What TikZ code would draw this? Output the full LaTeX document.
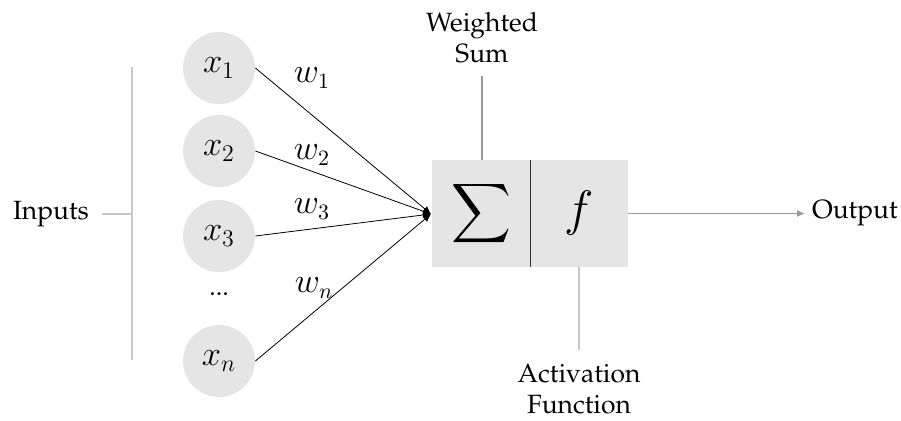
\documentclass[tikz,border=0pt]{standalone}
\usepackage[T1]{fontenc}
\usepackage{amsmath}
\renewcommand{\rmdefault}{ppl}
\usetikzlibrary{arrows.meta}
\begin{document}
\begin{tikzpicture}[x=0.5pt,y=-0.5pt,
  inp/.style={circle,fill=black!10,minimum size=36pt,inner sep=0pt,font=\fontsize{16.5}{18}\selectfont},
  half/.style={rectangle,fill=black!10,minimum width=49pt,minimum height=53.5pt,inner sep=0pt},
  lbl/.style={font=\fontsize{13.2}{15.5}\selectfont,align=center},
  wlbl/.style={font=\fontsize{16}{18}\selectfont},
  edge/.style={draw=black,line width=0.4pt,-{Latex[length=4pt,width=3.5pt]}},
  guide/.style={draw=black!22,line width=0.6pt},
  guided/.style={draw=black!40,line width=0.6pt}]
\useasboundingbox (0,0) rectangle (901,420);
\node[inp] (x1) at (219,68) {$x_1$};
\node[inp] (x2) at (219,151) {$x_2$};
\node[inp] (x3) at (219,236) {$x_3$};
\node[inp] (xn) at (219,361) {$x_n$};
\node[font=\fontsize{13}{15}\selectfont] (dots) at (219,294) {...};
\node[half] (sum) at (481,213.5) {\fontsize{20}{22}\selectfont$\displaystyle\sum$};
\node[half] (act) at (579,213.5) {\fontsize{27}{29}\selectfont$f$};
\draw[line width=0.6pt,black!80] (sum.north east) -- (sum.south east);
\coordinate (c) at (431,214);
\draw[edge] (x1.east) -- (c);
\draw[edge] (x2.east) -- (c);
\draw[edge] (x3.east) -- (c);
\draw[edge] (xn.east) -- (c);
\node[wlbl] (w1) at (312,78) {$w_1$};
\node[wlbl] (w2) at (312,155) {$w_2$};
\node[wlbl] (w3) at (312,209) {$w_3$};
\node[wlbl] (wn) at (314,288) {$w_n$};
\node[lbl] (inputs) at (51,214) {Inputs};
\coordinate (ib) at (132,214);
\coordinate (il) at (102,214);
\coordinate (itop) at (132,67);
\coordinate (ibot) at (132,360);
\draw[guide] (itop) -- (ibot);
\draw[guide] (il) -- (ib);
\node[lbl] (ws) at (482,38) {Weighted\\Sum};
\coordinate (wsb) at (482,76);
\draw[guided] (wsb) -- (sum.north -| wsb);
\node[lbl,inner sep=0pt] (af) at (579,389) {Activation\\Function};
\coordinate (afb) at (579,350);
\draw[guide] (act.south) -- (afb);
\node[lbl,anchor=west] (out) at (805,213.5) {Output};
\draw[guided,-{Latex[length=4pt,width=3.5pt]}] (act.east) -- (act.east -| out.west);
\end{tikzpicture}
\end{document}
